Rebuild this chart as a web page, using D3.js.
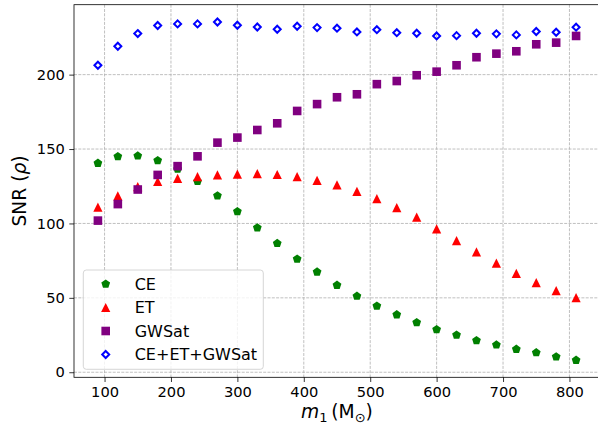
<!DOCTYPE html>
<html>
<head>
<meta charset="utf-8">
<script src="https://cdn.jsdelivr.net/npm/d3@7"></script>
<style>
  body { margin: 0; background: #fff; }
  text { font-family: "DejaVu Sans", sans-serif; }
</style>
</head>
<body>
<script>
// primary mass values (M_sun)
let mass = [90, 120, 150, 180, 210, 240, 270, 300, 330, 360, 390, 420, 450,
            480, 510, 540, 570, 600, 630, 660, 690, 720, 750, 780, 810]

// SNR per detector
let snrCE = [140.5, 145, 145.4, 142.3, 136.5, 128.3, 118.6, 108, 97.1, 86.6, 76.1, 67.4, 58.5,
             51.2, 44.5, 38.7, 33.4, 28.7, 25, 21.3, 18.4, 15.5, 13.2, 10.4, 8.1]
let snrET = [111, 118.5, 124.7, 128.2, 130.3, 131.5, 132.6, 133.2, 133.5, 132.9, 131.5, 128.9, 125.9,
             121.6, 116.7, 110.6, 104.2, 96.3, 88.5, 80.9, 73.3, 66.5, 60.2, 54.8, 50.2]
let snrGWSat = [101.9, 113, 122.8, 132.6, 138.5, 145.1, 154.3, 157.7, 162.8, 167.3, 175.6, 180.2, 184.8,
                186.8, 193.6, 195.7, 199.6, 202, 206.3, 211.7, 214.1, 215.7, 220.4, 221.5, 226]
let snrAll = [206.3, 219.1, 227.6, 233, 234.1, 234.1, 235.4, 233.2, 232, 230.5, 232.5, 231.6, 231.2,
              228.7, 230.2, 228.2, 227.8, 226, 226.2, 227.8, 227.4, 226.7, 229, 228.5, 231.9]

let xTicks = [100, 200, 300, 400, 500, 600, 700, 800]
let yTicks = [0, 50, 100, 150, 200]
let seriesNames = ['CE', 'ET', 'GWSat', 'CE+ET+GWSat']

function main(){
    let width = 598
    let height = 427
    let left = 74, right = 600, top = 4.7, bottom = 377.3

    let x = d3.scaleLinear().domain([54, 846]).range([left, right])
    let y = d3.scaleLinear().domain([-3.4, 247]).range([bottom, top])

    let svg = d3.select('body').append('svg')
        .attr('width', width)
        .attr('height', height)

    // grid
    let grid = svg.append('g')
    grid.selectAll('.gx').data(xTicks).enter().append('line')
        .attr('x1', d => x(d)).attr('x2', d => x(d))
        .attr('y1', top).attr('y2', bottom)
        .attr('stroke', '#b0b0b0').attr('stroke-width', 0.8)
        .attr('stroke-dasharray', '3,1.3')
    grid.selectAll('.gy').data(yTicks).enter().append('line')
        .attr('x1', left).attr('x2', right)
        .attr('y1', d => y(d)).attr('y2', d => y(d))
        .attr('stroke', '#b0b0b0').attr('stroke-width', 0.8)
        .attr('stroke-dasharray', '3,1.3')

    // marker shapes
    let pent = (r) => d3.range(5).map(i => {
        let a = -Math.PI/2 + i*2*Math.PI/5
        return [r*Math.cos(a), r*Math.sin(a)]
    })
    let shapes = [
        {data: snrCE, draw: g => g.append('polygon').attr('points', pent(4.6).join(' ')).attr('fill', '#008000')},
        {data: snrET, draw: g => g.append('polygon').attr('points', '0,-4.6 -4.6,4.6 4.6,4.6').attr('fill', '#ff0000')},
        {data: snrGWSat, draw: g => g.append('rect').attr('x', -4.3).attr('y', -4.3).attr('width', 8.6).attr('height', 8.6).attr('fill', '#800080')},
        {data: snrAll, draw: g => g.append('polygon').attr('points', '0,-3.5 3.5,0 0,3.5 -3.5,0')
            .attr('fill', 'none').attr('stroke', '#0000ff').attr('stroke-width', 2)}
    ]

    shapes.forEach(s => {
        svg.append('g').selectAll('g')
            .data(mass.map((m, i) => [m, s.data[i]]))
            .enter().append('g')
            .attr('transform', d => 'translate(' + x(d[0]) + ',' + y(d[1]) + ')')
            .each(function(){ s.draw(d3.select(this)) })
    })

    // axes
    let xAxis = svg.append('g')
        .attr('transform', 'translate(0,' + bottom + ')')
        .call(d3.axisBottom(x).tickValues(xTicks).tickSize(4.7).tickPadding(4.5).tickSizeOuter(0))
    let yAxis = svg.append('g')
        .attr('transform', 'translate(' + left + ',0)')
        .call(d3.axisLeft(y).tickValues(yTicks).tickSize(4.7).tickPadding(4.5).tickSizeOuter(0))
    ;[xAxis, yAxis].forEach(a => {
        a.selectAll('text').attr('font-size', 14.67).attr('fill', '#000')
            .attr('font-family', '"DejaVu Sans", sans-serif')
        a.selectAll('line').attr('stroke', '#000').attr('stroke-width', 0.8)
        a.select('.domain').remove()
    })

    // spines
    svg.append('rect')
        .attr('x', left).attr('y', top)
        .attr('width', right - left).attr('height', bottom - top)
        .attr('fill', 'none').attr('stroke', '#000').attr('stroke-width', 0.8)

    // axis labels
    let xl = svg.append('text')
        .attr('x', (left + right)/2).attr('y', 418)
        .attr('text-anchor', 'middle').attr('font-size', 18.67)
    xl.append('tspan').attr('font-style', 'italic').text('m')
    xl.append('tspan').attr('font-size', 13).attr('dy', 4).text('1')
    xl.append('tspan').attr('dy', -4).text('\u2009(M')
    xl.append('tspan').attr('font-size', 13).attr('dy', 4).text('\u2299')
    xl.append('tspan').attr('dy', -4).text(')')

    let yl = svg.append('text')
        .attr('transform', 'translate(26,191) rotate(-90)')
        .attr('text-anchor', 'middle').attr('font-size', 18.67)
    yl.append('tspan').text('SNR (')
    yl.append('tspan').attr('font-style', 'italic').text('\u03c1')
    yl.append('tspan').text(')')

    // legend
    let lg = svg.append('g')
    lg.append('rect')
        .attr('x', 83.3).attr('y', 270)
        .attr('width', 180).attr('height', 99.3)
        .attr('rx', 3).attr('fill', 'white').attr('fill-opacity', 0.8)
        .attr('stroke', '#cccccc').attr('stroke-width', 0.8)
    seriesNames.forEach((name, i) => {
        let row = lg.append('g').attr('transform', 'translate(105.7,' + (284 + i*23.5) + ')')
        shapes[i].draw(row)
        row.append('text').attr('x', 29).attr('dy', '0.36em')
            .attr('font-size', 16).text(name)
    })
}
main()
</script>
</body>
</html>
